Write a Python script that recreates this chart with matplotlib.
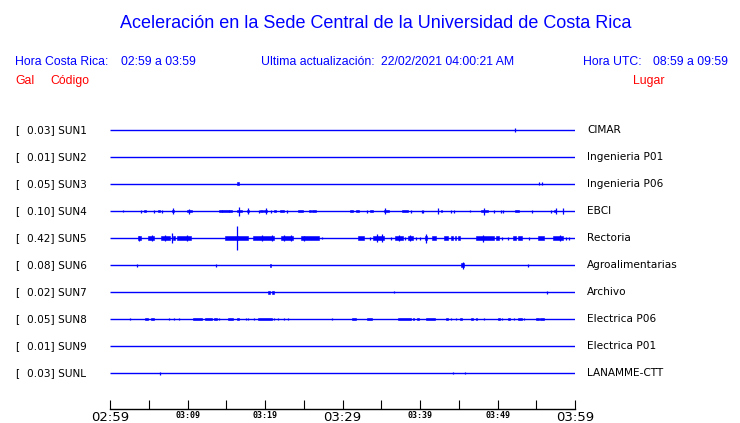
import matplotlib
matplotlib.use("Agg")
import matplotlib.pyplot as plt

# station codes, peak values and site names (top to bottom)
codes = ["SUN1", "SUN2", "SUN3", "SUN4", "SUN5", "SUN6", "SUN7", "SUN8", "SUN9", "SUNL"]
peaks = ["0.03", "0.01", "0.05", "0.10", "0.42", "0.08", "0.02", "0.05", "0.01", "0.03"]
sites = ["CIMAR", "Ingenieria P01", "Ingenieria P06", "EBCI", "Rectoria",
         "Agroalimentarias", "Archivo", "Electrica P06", "Electrica P01", "LANAMME-CTT"]

# minutes after 02:59 -> tick labels
tick_minutes = [0, 5, 10, 15, 20, 25, 30, 35, 40, 45, 50, 55, 60]
tick_labels = ["02:59", "", "03:09", "", "03:19", "", "03:29", "", "03:39", "", "03:49", "", "03:59"]
big_labels = ["02:59", "03:29", "03:59"]

# bursts: (start min, end min, half amplitude) ; spikes: (min, half amplitude)
sun1_blocks = []
sun1_spikes = [(52.2, 2)]
sun2_blocks = []
sun2_spikes = []
sun3_blocks = [(16.4, 16.6, 1.5)]
sun3_spikes = [(55.4, 1.5), (55.7, 1.5)]
sun4_blocks = [(4.4, 4.6, 1.3), (6.15, 6.45, 1.3), (8.0, 8.3, 1.3), (9.9, 10.6, 1.3),
               (14.0, 14.4, 1.3), (14.4, 15.3, 1.3), (15.4, 15.8, 1.3), (16.4, 17.0, 1.3),
               (17.7, 17.9, 1.3), (19.4, 19.8, 1.3), (19.9, 20.3, 1.3), (21.2, 21.4, 1.3),
               (21.9, 22.4, 1.3), (24.3, 24.9, 1.3), (25.7, 26.0, 1.3), (26.1, 26.6, 1.3),
               (31.0, 31.4, 1.3), (31.7, 32.1, 1.3), (33.5, 33.9, 1.3), (35.3, 36.0, 1.3),
               (37.7, 38.4, 1.3), (42.7, 42.9, 1.3), (47.9, 48.8, 1.3), (52.3, 52.8, 1.3),
               (57.3, 57.6, 1.3), (58.4, 58.5, 2.5)]
sun4_spikes = [(1.7, 1), (4.0, 1.5), (5.7, 1.5), (6.7, 1.5), (8.1, 2.8), (10.2, 2.5),
               (16.6, 4.5), (17.8, 2.8), (19.2, 1.5), (20.1, 2.8), (20.8, 1.5), (22.8, 1.5),
               (33.2, 1.5), (35.5, 2.8), (38.9, 1.5), (40.2, 1.5), (40.4, 1.5), (42.3, 3),
               (44.0, 1.5), (44.4, 1.5), (46.5, 1), (48.3, 3.5), (49.6, 1.5), (50.5, 1.5),
               (50.7, 1.5), (54.4, 1.5), (56.9, 1.5), (57.5, 3), (58.45, 3)]
sun5_blocks = [(3.6, 3.95, 1.7), (4.9, 5.7, 1.7), (6.6, 7.8, 1.7), (8.1, 8.4, 1.7),
               (8.7, 10.5, 1.7), (14.8, 16.5, 1.7), (16.5, 17.8, 1.7), (18.5, 21.1, 1.7),
               (22.1, 23.6, 1.7), (24.7, 27.0, 1.7), (32.0, 32.8, 1.7), (33.9, 35.3, 1.7),
               (36.8, 37.8, 1.7), (38.4, 39.1, 1.7), (40.7, 40.9, 1.7), (41.6, 42.1, 1.7),
               (43.1, 43.6, 1.7), (44.0, 44.2, 1.7), (44.5, 44.7, 1.7), (44.9, 45.2, 1.7),
               (47.2, 49.5, 1.7), (49.8, 50.2, 1.7), (52.0, 52.4, 1.7), (52.7, 53.2, 1.7),
               (55.2, 56.0, 1.7), (57.2, 58.4, 1.7)]
sun5_spikes = [(3.8, 2.5), (5.4, 3), (7.1, 3), (8.0, 5), (9.9, 3), (16.4, 11.7),
               (19.65, 3), (20.9, 3), (22.45, 3), (23.3, 3), (25.0, 2.5), (27.4, 1),
               (33.5, 1.5), (34.5, 4), (35.1, 4), (36.3, 1.5), (37.3, 3), (38.1, 1.5),
               (38.7, 3), (39.5, 1.5), (40.0, 1.5), (40.8, 4.5), (48.1, 3.5), (50.6, 1.5),
               (51.4, 1.5), (54.0, 1.5), (58.1, 3), (58.9, 1.5), (59.25, 1.5)]
sun6_blocks = [(20.6, 20.8, 1.5), (45.35, 45.65, 2)]
sun6_spikes = [(3.5, 1.5), (13.7, 1.5), (45.5, 3.5), (53.9, 1.5)]
sun7_blocks = [(20.4, 20.6, 1.5), (20.9, 21.1, 1.5)]
sun7_spikes = [(36.7, 1), (56.4, 1.5)]
sun8_blocks = [(4.5, 4.9, 1.3), (5.3, 5.7, 1.3), (10.7, 11.9, 1.3), (12.2, 13.1, 1.3),
               (13.4, 13.8, 1.3), (15.2, 15.9, 1.3), (16.4, 16.7, 1.3), (19.1, 20.9, 1.3),
               (31.2, 31.8, 1.3), (33.1, 33.8, 1.3), (37.1, 38.9, 1.3), (39.1, 39.2, 1.3),
               (39.6, 39.9, 1.3), (40.8, 41.9, 1.3), (43.3, 43.6, 1.3), (45.1, 45.4, 1.3),
               (46.6, 46.9, 1.3), (47.2, 47.4, 1.3), (50.1, 50.3, 1.3), (51.3, 51.6, 1.3),
               (52.6, 53.1, 1.3), (55.0, 55.3, 1.3), (55.5, 56.0, 1.3)]
sun8_spikes = [(2.6, 1), (7.65, 1.3), (8.3, 1.3), (8.9, 1.3), (14.0, 1.3), (17.5, 1.3),
               (17.8, 1.3), (18.6, 1.3), (21.2, 1.3), (21.7, 1.3), (22.4, 1.3), (23.0, 1),
               (28.7, 1), (44.0, 1.3), (44.6, 1.3), (48.3, 1.3), (50.6, 1.3), (52.1, 1.3),
               (53.4, 1.3)]
sun9_blocks = []
sun9_spikes = []
sunl_blocks = []
sunl_spikes = [(6.4, 1.5), (44.2, 1), (45.8, 1)]

all_blocks = [sun1_blocks, sun2_blocks, sun3_blocks, sun4_blocks, sun5_blocks,
              sun6_blocks, sun7_blocks, sun8_blocks, sun9_blocks, sunl_blocks]
all_spikes = [sun1_spikes, sun2_spikes, sun3_spikes, sun4_spikes, sun5_spikes,
              sun6_spikes, sun7_spikes, sun8_spikes, sun9_spikes, sunl_spikes]

BLUE = "#0000ff"
RED = "#ff0000"
W, H = 740, 423

fig = plt.figure(figsize=(W / 100, H / 100), dpi=100)


def ftext(x, y, s, **kw):
    # place text using pixel coords measured from the top-left
    fig.text(x / W, 1 - y / H, s, va="center", **kw)


hdr = dict(family="Liberation Sans", fontsize=8.8)
ftext(376, 23.5, "Aceleración en la Sede Central de la Universidad de Costa Rica",
      ha="center", color=BLUE, family="Liberation Sans", fontsize=13)
ftext(15, 62, "Hora Costa Rica:", color=BLUE, **hdr)
ftext(121, 62, "02:59 a 03:59", color=BLUE, **hdr)
ftext(261, 62, "Ultima actualización:", color=BLUE, **hdr)
ftext(381, 62, "22/02/2021 04:00:21 AM", color=BLUE, **hdr)
ftext(583, 62, "Hora UTC:", color=BLUE, **hdr)
ftext(653, 62, "08:59 a 09:59", color=BLUE, **hdr)
ftext(15, 81, "Gal", color=RED, **hdr)
ftext(50, 81, "Código", color=RED, **hdr)
ftext(633, 81, "Lugar", color=RED, **hdr)

# axes in pixel-like y units so rows sit at fixed spacing
ax = fig.add_axes([110 / W, 1 - 409 / H, 465 / W, (409 - 117) / H])
ax.set_xlim(0, 60)
ax.set_ylim(409, 117)
row0, step = 130, 27

for i, code in enumerate(codes):
    y = row0 + step * i
    ax.hlines(y, 0, 60, color=BLUE, lw=1.0)
    for t0, t1, a in all_blocks[i]:
        ax.bar(t0, 2 * a, width=t1 - t0, bottom=y - a, align="edge",
               color=BLUE, edgecolor=BLUE, lw=0.4)
    for t, a in all_spikes[i]:
        ax.vlines(t, y - a, y + a, color=BLUE, lw=0.9)
    ftext(15, y, "[", color="black", fontsize=7.6)
    ftext(27, y, f"{peaks[i]}] {code}", color="black", fontsize=7.6)
    ftext(587, y, sites[i], color="black", fontsize=7.6)

for side in ["left", "right", "top"]:
    ax.spines[side].set_visible(False)
ax.spines["bottom"].set_linewidth(1.0)
ax.set_yticks([])
ax.set_xticks(tick_minutes)
ax.set_xticklabels(tick_labels)
ax.tick_params(axis="x", direction="in", length=6.5, width=0.8, pad=1.5)
for lab in ax.get_xticklabels():
    if lab.get_text() in big_labels:
        lab.set_fontsize(9.5)
    else:
        lab.set_fontsize(6)
        lab.set_family("DejaVu Sans Mono")
        lab.set_fontweight("bold")

fig.savefig("out.png", dpi=100)
